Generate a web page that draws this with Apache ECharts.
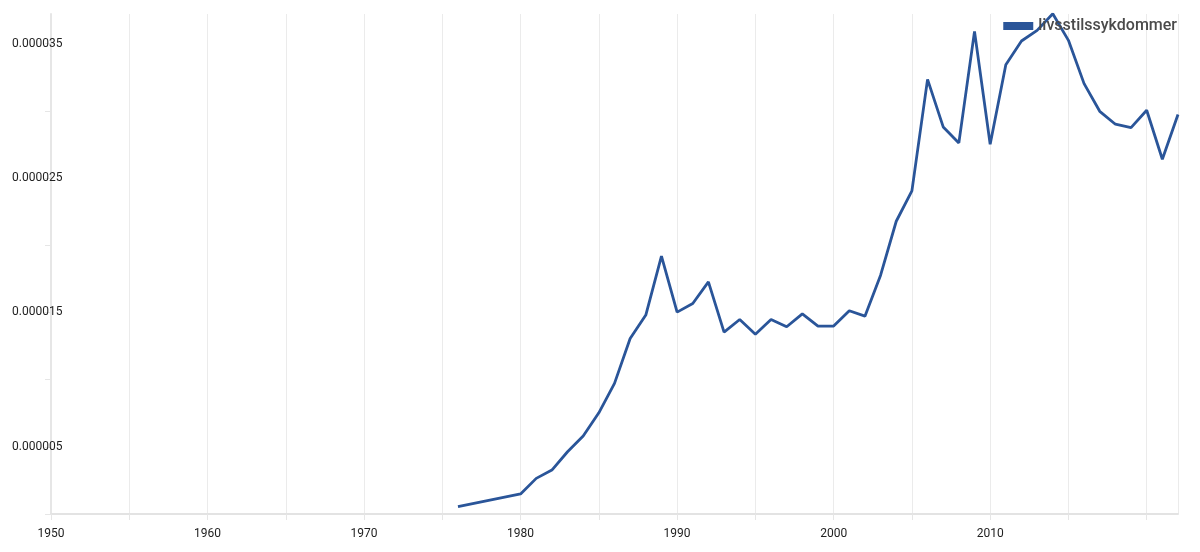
<!DOCTYPE html>
<html>
<head>
<meta charset="utf-8">
<script src="https://cdn.jsdelivr.net/npm/echarts@6/dist/echarts.min.js"></script>
<style>html,body{margin:0;padding:0;background:#fff}#c{width:1200px;height:552px}</style>
</head>
<body>
<div id="c"></div>
<script>
const seriesName = 'livsstilssykdommer';
const years = [1976,1980,1981,1982,1983,1984,1985,1986,1987,1988,1989,1990,1991,1992,1993,1994,1995,1996,1997,1998,1999,2000,2001,2002,2003,2004,2005,2006,2007,2008,2009,2010,2011,2012,2013,2014,2015,2016,2017,2018,2019,2020,2021,2022];
const values = [0.54e-6,1.49e-6,2.65e-6,3.27e-6,4.63e-6,5.80e-6,7.53e-6,9.72e-6,13.06e-6,14.80e-6,19.18e-6,15.02e-6,15.66e-6,17.27e-6,13.53e-6,14.47e-6,13.38e-6,14.47e-6,13.93e-6,14.89e-6,13.98e-6,13.98e-6,15.12e-6,14.72e-6,17.77e-6,21.78e-6,24.04e-6,32.34e-6,28.80e-6,27.61e-6,35.91e-6,27.51e-6,33.43e-6,35.19e-6,35.98e-6,37.22e-6,35.24e-6,32.02e-6,29.96e-6,29.00e-6,28.75e-6,30.04e-6,26.39e-6,29.72e-6];
const xMin = 1950, xMax = 2022;

const chart = echarts.init(document.getElementById('c'));
const lineColor = '#2a5599';
chart.setOption({
  animation: false,
  textStyle: { fontFamily: 'Roboto' },
  grid: { left: 51, right: 22, top: 14, bottom: 38 },
  legend: {
    show: true, right: 18, top: 13,
    icon: 'rect', itemWidth: 30, itemHeight: 8, itemGap: 6,
    textStyle: { fontSize: 16, fontWeight: 500, color: '#4a4a4a', fontFamily: 'Roboto' },
    data: [seriesName]
  },
  xAxis: {
    type: 'value', min: xMin, max: xMax, interval: 5,
    axisLine: { show: true, lineStyle: { color: '#e3e3e3', width: 2 } },
    axisTick: { show: true, length: 6, lineStyle: { color: '#e6e6e6' } },
    splitLine: { show: true, lineStyle: { color: '#ebebeb', width: 1 } },
    axisLabel: {
      color: '#222', fontSize: 12, margin: 14,
      showMaxLabel: false,
      formatter: v => (v % 10 === 0 && v < 2020) ? String(v) : ''
    }
  },
  yAxis: {
    type: 'value', min: 0, max: 3.72e-5, interval: 5e-6,
    axisLine: { show: true, lineStyle: { color: '#e6e6e6', width: 2 } },
    axisTick: { show: true, length: 6, lineStyle: { color: '#e6e6e6' } },
    splitLine: { show: false },
    axisLabel: {
      color: '#222', fontSize: 12, align: 'left', margin: 39,
      showMaxLabel: false,
      formatter: v => (Math.round(v / 5e-6) % 2 === 1) ? v.toFixed(6) : ''
    }
  },
  series: [{
    name: seriesName, type: 'line', showSymbol: false,
    lineStyle: { color: lineColor, width: 2.8 },
    itemStyle: { color: lineColor },
    data: years.map((y, i) => [y, values[i]])
  }]
});
</script>
</body>
</html>
